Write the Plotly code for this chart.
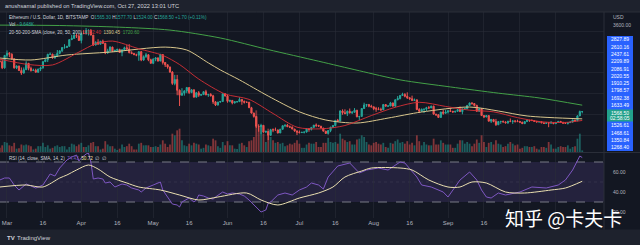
import pandas as pd
import plotly.graph_objects as go

# ---------------- data (ETH/USD daily, Bitstamp) ----------------
first_open = 2780.0
close_feb = [2770, 2620, 2920]
high_feb = [2840, 2820, 2930]
low_feb = [2750, 2590, 2600]
vol_feb = [25, 40, 60]

close_mar = [2970, 2950, 2835, 2620, 2665, 2555, 2495, 2575, 2730, 2608, 2555, 2565, 2515, 2590, 2620, 2770,
             2815, 2945, 2950, 2860, 2895, 2970, 3030, 3110, 3110, 3140, 3300, 3330, 3400, 3385, 3280]
high_mar = [3040, 3000, 2970, 2850, 2680, 2670, 2630, 2630, 2780, 2730, 2650, 2600, 2600, 2600, 2650, 2780,
            2830, 2960, 2990, 2960, 2950, 3050, 3040, 3120, 3190, 3150, 3310, 3410, 3480, 3440, 3440]
low_mar = [2860, 2880, 2820, 2600, 2590, 2550, 2450, 2480, 2570, 2560, 2530, 2550, 2505, 2500, 2540, 2600,
           2760, 2760, 2930, 2840, 2840, 2890, 2950, 3000, 3080, 3100, 3130, 3290, 3330, 3340, 3270]
vol_mar = [55, 40, 35, 55, 20, 22, 45, 40, 45, 40, 35, 15, 20, 35, 35, 55, 30, 40, 20, 25, 35, 40, 30, 35, 35,
           15, 30, 50, 45, 35, 45]

close_apr = [3450, 3445, 3520, 3520, 3410, 3170, 3235, 3190, 3260, 3210, 2980, 3030, 3120, 3020, 3040, 3065,
             2990, 3055, 3105, 3075, 2985, 2965, 2935, 2925, 3010, 2810, 2890, 2935, 2815, 2730]
high_apr = [3470, 3530, 3580, 3550, 3555, 3410, 3260, 3310, 3270, 3300, 3220, 3080, 3140, 3130, 3060, 3080,
            3080, 3070, 3130, 3170, 3190, 3020, 2980, 2960, 3020, 3030, 2920, 2980, 2950, 2840]
low_apr = [3210, 3440, 3420, 3400, 3405, 3150, 3160, 3180, 3190, 3200, 2950, 2960, 3010, 3000, 3010, 3030,
           2980, 2900, 3040, 3050, 2970, 2950, 2930, 2900, 2790, 2780, 2790, 2860, 2780, 2720]
vol_apr = [55, 30, 30, 40, 55, 60, 35, 35, 15, 20, 65, 45, 35, 35, 20, 12, 20, 45, 30, 35, 50, 35, 15, 15, 50,
           55, 40, 40, 40, 30]

close_may = [2830, 2860, 2785, 2940, 2750, 2695, 2640, 2520, 2245, 2340, 2080, 1960, 2010, 2065, 2145, 2025,
             2090, 1915, 2020, 1960, 1975, 2045, 1970, 1980, 1945, 1800, 1725, 1795, 1810, 1995, 1940]
high_may = [2850, 2880, 2870, 2960, 2950, 2760, 2700, 2650, 2540, 2450, 2450, 2100, 2130, 2080, 2160, 2150,
            2110, 2100, 2040, 2060, 1990, 2050, 2090, 1990, 2010, 1970, 1820, 1800, 1820, 2000, 2010]
low_may = [2710, 2780, 2770, 2780, 2700, 2640, 2600, 2500, 2210, 2200, 1960, 1700, 1950, 1950, 2010, 1990,
           2010, 1900, 1900, 1920, 1950, 1970, 1960, 1920, 1930, 1750, 1700, 1710, 1780, 1800, 1930]
vol_may = [30, 35, 30, 45, 70, 50, 30, 45, 110, 100, 130, 140, 70, 40, 35, 50, 40, 55, 50, 45, 20, 25, 45, 40,
           35, 80, 70, 35, 25, 60, 40]

close_jun = [1815, 1835, 1775, 1805, 1805, 1860, 1815, 1790, 1790, 1660, 1530, 1450, 1210, 1205, 1235, 1070,
             1085, 995, 1130, 1125, 1125, 1050, 1140, 1225, 1240, 1200, 1190, 1145, 1100, 1070]
high_jun = [1970, 1850, 1840, 1810, 1820, 1910, 1860, 1830, 1810, 1800, 1680, 1540, 1450, 1260, 1240, 1240,
            1110, 1090, 1150, 1160, 1180, 1130, 1150, 1230, 1250, 1270, 1230, 1210, 1150, 1110]
low_jun = [1780, 1790, 1740, 1760, 1780, 1800, 1730, 1760, 1780, 1650, 1520, 1420, 1170, 1080, 1020, 1060,
           1060, 880, 980, 1070, 1110, 1040, 1050, 1130, 1190, 1200, 1180, 1140, 1080, 1000]
vol_jun = [65, 40, 40, 20, 18, 50, 55, 40, 30, 65, 70, 90, 250, 150, 170, 110, 60, 140, 90, 70, 55, 60, 50, 55,
           35, 40, 50, 45, 55, 70]

close_jul = [1060, 1065, 1075, 1150, 1135, 1185, 1240, 1235, 1215, 1170, 1095, 1040, 1110, 1190, 1230, 1355,
             1340, 1580, 1540, 1520, 1575, 1535, 1550, 1600, 1440, 1450, 1640, 1725, 1735, 1695, 1680]
high_jul = [1110, 1080, 1080, 1160, 1170, 1190, 1240, 1280, 1240, 1220, 1170, 1100, 1110, 1200, 1240, 1360,
            1390, 1600, 1620, 1620, 1590, 1640, 1580, 1650, 1600, 1460, 1650, 1780, 1750, 1750, 1730]
low_jul = [1040, 1050, 1040, 1060, 1080, 1110, 1180, 1190, 1200, 1160, 1090, 1030, 1010, 1070, 1180, 1210,
           1320, 1335, 1490, 1500, 1460, 1520, 1510, 1540, 1430, 1360, 1450, 1630, 1680, 1670, 1670]
vol_jul = [50, 25, 25, 45, 55, 50, 50, 60, 30, 30, 55, 55, 85, 60, 55, 60, 50, 110, 80, 70, 60, 65, 45, 45, 75,
           80, 100, 90, 60, 45, 40]

close_aug = [1635, 1630, 1620, 1610, 1735, 1695, 1700, 1775, 1700, 1850, 1880, 1955, 1980, 1935, 1900, 1875,
             1835, 1850, 1615, 1575, 1620, 1625, 1660, 1655, 1695, 1505, 1490, 1425, 1555, 1525, 1555]
high_aug = [1690, 1680, 1670, 1660, 1750, 1745, 1720, 1800, 1780, 1860, 1940, 1960, 2020, 2010, 2030, 1910,
            1950, 1880, 1850, 1650, 1640, 1630, 1680, 1700, 1710, 1710, 1510, 1500, 1560, 1610, 1610]
low_aug = [1600, 1560, 1600, 1580, 1600, 1690, 1680, 1700, 1680, 1670, 1840, 1860, 1950, 1910, 1870, 1850,
           1820, 1830, 1600, 1530, 1560, 1530, 1580, 1630, 1650, 1490, 1460, 1420, 1420, 1490, 1520]
vol_aug = [55, 60, 50, 45, 55, 30, 25, 55, 50, 65, 75, 55, 60, 50, 65, 45, 55, 40, 100, 65, 40, 60, 45, 40, 40,
           80, 45, 45, 70, 55, 45]

close_sep = [1585, 1575, 1555, 1575, 1615, 1565, 1630, 1635, 1715, 1775, 1760, 1715, 1575, 1635, 1470, 1435,
             1470, 1335, 1375, 1325, 1250, 1325, 1330, 1315, 1295, 1335, 1330, 1340, 1335, 1328]
high_sep = [1590, 1640, 1580, 1580, 1620, 1690, 1640, 1660, 1720, 1780, 1790, 1770, 1730, 1640, 1650, 1480,
            1480, 1470, 1390, 1390, 1390, 1340, 1340, 1350, 1330, 1340, 1400, 1350, 1350, 1370]
low_sep = [1520, 1560, 1540, 1540, 1560, 1560, 1500, 1610, 1630, 1700, 1730, 1690, 1560, 1560, 1460, 1410,
           1430, 1330, 1290, 1310, 1220, 1240, 1270, 1310, 1280, 1270, 1310, 1270, 1300, 1310]
vol_sep = [45, 45, 25, 25, 50, 70, 70, 50, 60, 50, 35, 50, 75, 55, 100, 60, 30, 55, 60, 45, 70, 50, 45, 30, 35,
           50, 60, 50, 40, 45]

close_oct = [1310, 1275, 1325, 1360, 1350, 1350, 1330, 1315, 1320, 1295, 1280, 1295, 1290, 1295, 1275, 1305,
             1330, 1310, 1285, 1280, 1300, 1315, 1365, 1345, 1460, 1566.8, 1568.5]
high_oct = [1335, 1320, 1330, 1370, 1360, 1380, 1360, 1340, 1330, 1330, 1300, 1300, 1310, 1340, 1300, 1310,
            1330, 1340, 1315, 1310, 1305, 1320, 1370, 1365, 1480, 1590, 1577.7]
low_oct = [1300, 1270, 1270, 1320, 1320, 1340, 1320, 1310, 1310, 1290, 1270, 1280, 1190, 1280, 1270, 1270,
           1300, 1290, 1280, 1270, 1255, 1295, 1300, 1330, 1340, 1460, 1524]
vol_oct = [20, 25, 35, 35, 30, 30, 35, 20, 15, 30, 30, 25, 60, 45, 20, 20, 30, 35, 30, 30, 40, 20, 30, 35, 80,
           110, 9.648]

# moving averages
sma20_dates = ["2022-02-26", "2022-03-10", "2022-03-20", "2022-03-31", "2022-04-07", "2022-04-14", "2022-04-25",
               "2022-05-05", "2022-05-12", "2022-05-20", "2022-05-31", "2022-06-10", "2022-06-20", "2022-06-30",
               "2022-07-10", "2022-07-20", "2022-07-31", "2022-08-10", "2022-08-20", "2022-08-31", "2022-09-10",
               "2022-09-20", "2022-09-30", "2022-10-10", "2022-10-20", "2022-10-27"]
sma20_vals = [2830, 2700, 2690, 3000, 3200, 3265, 3080, 2920, 2700, 2350, 1990, 1860, 1520, 1190, 1150, 1230,
              1470, 1670, 1790, 1690, 1600, 1560, 1420, 1320, 1305, 1352]
sma50_dates = ["2022-02-26", "2022-03-11", "2022-03-26", "2022-04-13", "2022-05-06", "2022-05-15", "2022-05-24",
               "2022-05-29", "2022-06-06", "2022-06-18", "2022-07-01", "2022-07-12", "2022-07-25", "2022-08-07",
               "2022-08-21", "2022-09-10", "2022-09-22", "2022-10-04", "2022-10-27"]
sma50_vals = [2857, 2810, 2930, 3000, 3120, 3050, 2740, 2570, 2330, 1940, 1560, 1363, 1290, 1410, 1556, 1676,
              1580, 1460, 1390.45]
sma200_dates = ["2022-02-26", "2022-03-23", "2022-04-17", "2022-05-08", "2022-05-29", "2022-06-18", "2022-07-09",
                "2022-07-26", "2022-08-12", "2022-09-02", "2022-09-22", "2022-10-09", "2022-10-27"]
sma200_vals = [3650, 3640, 3600, 3530, 3340, 3060, 2780, 2550, 2330, 2160, 2010, 1895, 1720.6]

rsi_dates = ["2022-02-26", "2022-02-28",
             "2022-03-02", "2022-03-04", "2022-03-06", "2022-03-09", "2022-03-11", "2022-03-13", "2022-03-16",
             "2022-03-19", "2022-03-21", "2022-03-23", "2022-03-26", "2022-03-28", "2022-03-30", "2022-03-31",
             "2022-04-01", "2022-04-03", "2022-04-04", "2022-04-05", "2022-04-06", "2022-04-08", "2022-04-10",
             "2022-04-11", "2022-04-13", "2022-04-15", "2022-04-18", "2022-04-20", "2022-04-22", "2022-04-25",
             "2022-04-26", "2022-04-28",
             "2022-05-01", "2022-05-04", "2022-05-05", "2022-05-08", "2022-05-09", "2022-05-11", "2022-05-12",
             "2022-05-13", "2022-05-16", "2022-05-18", "2022-05-19", "2022-05-20", "2022-05-22", "2022-05-24",
             "2022-05-26", "2022-05-27", "2022-05-30",
             "2022-06-01", "2022-06-03", "2022-06-06", "2022-06-08", "2022-06-10", "2022-06-12", "2022-06-13",
             "2022-06-15", "2022-06-16", "2022-06-17", "2022-06-18", "2022-06-19", "2022-06-22", "2022-06-25",
             "2022-06-28",
             "2022-07-01", "2022-07-04", "2022-07-06", "2022-07-09", "2022-07-11", "2022-07-13", "2022-07-17",
             "2022-07-22", "2022-07-26", "2022-07-29",
             "2022-08-03", "2022-08-07", "2022-08-12", "2022-08-14", "2022-08-19", "2022-08-21", "2022-08-25",
             "2022-08-30",
             "2022-09-01", "2022-09-06", "2022-09-10", "2022-09-13", "2022-09-15", "2022-09-17", "2022-09-19",
             "2022-09-22", "2022-09-25",
             "2022-10-01", "2022-10-06", "2022-10-12", "2022-10-17", "2022-10-20", "2022-10-23", "2022-10-26",
             "2022-10-27"]
rsi_vals = [52, 54,
            54, 47, 42, 48, 46, 44, 47, 58, 56, 64, 72, 75, 77, 71,
            74, 78, 79, 70, 53, 54, 53, 49, 50, 45, 48, 47, 44, 42, 40, 44,
            47, 50, 42, 32, 28, 27, 25, 30, 34, 30, 32, 37, 36, 34, 33, 35, 40,
            38, 39, 38, 36, 32, 27, 24, 20, 21, 22, 29, 30, 37, 39, 37,
            42, 45, 49, 47, 43, 55, 66, 69, 59, 62,
            64, 62, 70, 69, 55, 47, 45, 40,
            35, 52, 60, 52, 42, 35, 34, 39, 37,
            40, 45, 44, 47, 52, 62, 76, 74.43]
rsima_dates = ["2022-02-26", "2022-03-09", "2022-03-16", "2022-03-23", "2022-03-26", "2022-03-30", "2022-04-04",
               "2022-04-08", "2022-04-13", "2022-04-20", "2022-04-25", "2022-05-04", "2022-05-12", "2022-05-20",
               "2022-05-28", "2022-06-09", "2022-06-15", "2022-06-22", "2022-07-01", "2022-07-09", "2022-07-15",
               "2022-07-20", "2022-07-27", "2022-07-31", "2022-08-12", "2022-08-17", "2022-08-24", "2022-09-01",
               "2022-09-06", "2022-09-11", "2022-09-17", "2022-09-25", "2022-10-03", "2022-10-14", "2022-10-20",
               "2022-10-27"]
rsima_vals = [45, 47, 45, 54, 57, 62, 67, 63, 55, 49, 45, 42, 37, 32, 35, 39, 32, 27, 34, 39, 45, 55, 61, 64,
              64, 62, 52, 45, 45, 50, 49, 40, 39, 42, 44, 50.72]

tick_dates = ["2022-03-01", "2022-03-16", "2022-04-01", "2022-04-16", "2022-05-01", "2022-05-16", "2022-06-01",
              "2022-06-16", "2022-07-01", "2022-07-16", "2022-08-01", "2022-08-16", "2022-09-01", "2022-09-16",
              "2022-10-01", "2022-10-16"]
# the last two date labels sit under the watermark in the reference and are not visible
tick_text = ["Mar", "16", "Apr", "16", "May", "16", "Jun", "16", "Jul", "16", "Aug", "16", "Sep", "16", "", ""]

scale_labels_top = ["2827.89", "2610.16", "2437.61", "2209.89", "2086.91", "2020.55", "1910.25", "1798.57",
                    "1692.38", "1633.49"]
scale_labels_bottom = ["1526.61", "1468.61", "1350.84", "1268.40"]
last_price_label = "1568.50"
countdown_label = "02:58:05"

# ---------------- assemble series ----------------
closes = close_feb + close_mar + close_apr + close_may + close_jun + close_jul + close_aug + close_sep + close_oct
highs = high_feb + high_mar + high_apr + high_may + high_jun + high_jul + high_aug + high_sep + high_oct
lows = low_feb + low_mar + low_apr + low_may + low_jun + low_jul + low_aug + low_sep + low_oct
volumes = vol_feb + vol_mar + vol_apr + vol_may + vol_jun + vol_jul + vol_aug + vol_sep + vol_oct
opens = [first_open] + closes[:-1]
dates = pd.date_range("2022-02-26", periods=len(closes), freq="D")

UP, DN = "#26a69a", "#ef5350"
vol_colors = ["rgba(38,166,154,0.5)" if c >= o else "rgba(239,83,80,0.5)" for o, c in zip(opens, closes)]

# ---------------- geometry helpers (pixels -> paper) ----------------
W, H = 640, 245
PX0, PX1 = 0, 604
PY0, PY1 = 12, 218


def fx(p):
    return (p - PX0) / (PX1 - PX0)


def fy(p):
    return (PY1 - p) / (PY1 - PY0)


FONT = "Liberation Sans, Arial, sans-serif"
GRID = "rgba(42,46,57,0.55)"
TXT = "#b2b5be"

fig = go.Figure()
fig.add_trace(go.Bar(x=dates, y=volumes, marker=dict(color=vol_colors, line=dict(width=0)),
                     xaxis="x", yaxis="y", showlegend=False, hoverinfo="skip"))
fig.add_trace(go.Candlestick(x=dates, open=opens, high=highs, low=lows, close=closes,
                             increasing=dict(line=dict(color=UP, width=1), fillcolor=UP),
                             decreasing=dict(line=dict(color=DN, width=1), fillcolor=DN),
                             xaxis="x", yaxis="y2", showlegend=False))
fig.add_trace(go.Scatter(x=sma200_dates, y=sma200_vals, mode="lines",
                         line=dict(color="#43a047", width=1, shape="spline", smoothing=0.8),
                         xaxis="x", yaxis="y2", showlegend=False))
fig.add_trace(go.Scatter(x=sma50_dates, y=sma50_vals, mode="lines",
                         line=dict(color="#d8c68c", width=1, shape="spline", smoothing=0.8),
                         xaxis="x", yaxis="y2", showlegend=False))
fig.add_trace(go.Scatter(x=sma20_dates, y=sma20_vals, mode="lines",
                         line=dict(color="rgba(214,48,54,0.9)", width=1, shape="spline", smoothing=0.8),
                         xaxis="x", yaxis="y2", showlegend=False))
fig.add_trace(go.Scatter(x=rsi_dates, y=rsi_vals, mode="lines", line=dict(color="#7e57c2", width=1),
                         xaxis="x2", yaxis="y3", showlegend=False))
fig.add_trace(go.Scatter(x=rsima_dates, y=rsima_vals, mode="lines",
                         line=dict(color="#eadfb0", width=1, shape="spline", smoothing=0.8),
                         xaxis="x2", yaxis="y3", showlegend=False))

x_range = ["2022-02-26 02:00", "2022-11-05 02:00"]
main_dom = [fy(152), 1]
rsi_dom = [0, fy(153)]

shapes = [
    dict(type="rect", xref="paper", yref="paper", x0=fx(0), x1=fx(640), y0=fy(229.5), y1=fy(12),
         fillcolor="#131722", line=dict(width=0), layer="below"),
    dict(type="rect", xref="paper", yref="y3", x0=0, x1=1, y0=30, y1=70,
         fillcolor="rgba(126,87,194,0.17)", line=dict(width=0), layer="below"),
    dict(type="line", xref="paper", yref="y3", x0=0, x1=1, y0=70, y1=70,
         line=dict(color="#787b86", width=1, dash="dash"), layer="below"),
    dict(type="line", xref="paper", yref="y3", x0=0, x1=1, y0=50, y1=50,
         line=dict(color="rgba(120,123,134,0.18)", width=1, dash="dot"), layer="below"),
    dict(type="line", xref="paper", yref="y3", x0=0, x1=1, y0=30, y1=30,
         line=dict(color="#787b86", width=1, dash="dash"), layer="below"),
    dict(type="line", xref="paper", yref="paper", x0=0, x1=fx(640), y0=fy(152.5), y1=fy(152.5),
         line=dict(color="#2a2e39", width=1)),
    dict(type="line", xref="paper", yref="paper", x0=1, x1=1, y0=fy(229.5), y1=fy(12),
         line=dict(color="#2a2e39", width=1)),
    dict(type="line", xref="paper", yref="paper", x0=0, x1=fx(640), y0=fy(12), y1=fy(12),
         line=dict(color="#2a2e39", width=1)),
    dict(type="rect", xref="paper", yref="paper", x0=fx(607), x1=fx(633), y0=fy(151), y1=fy(36),
         fillcolor="#2962ff", line=dict(width=0)),
    dict(type="rect", xref="paper", yref="paper", x0=fx(607), x1=fx(633), y0=fy(121.5), y1=fy(109.5),
         fillcolor="#22a18b", line=dict(width=0)),
]

ann = []


def text(x, y, s, size=4.6, color=TXT, anchor="left", family=FONT):
    ann.append(dict(xref="paper", yref="paper", x=fx(x), y=fy(y), text=s, showarrow=False,
                    xanchor=anchor, yanchor="middle", font=dict(family=family, size=size, color=color)))


def col(s, c):
    return "<span style='color:%s'>%s</span>" % (c, s)


text(3, 6, "anushsamal published on TradingView.com, Oct 27, 2022 13:01 UTC", size=5.7, color="#d1d4dc")
text(7, 17.5, "Ethereum / U.S. Dollar, 1D, BITSTAMP  O" + col("1565.30", UP) + " H" + col("1577.70", UP)
     + " L" + col("1524.00", UP) + " C" + col("1568.50", UP) + " " + col("+1.70 (+0.11%)", UP),
     color="#d1d4dc")
text(7, 25, "Vol · " + col("9.648K", UP), color="#d1d4dc")
text(7, 32.5, "20-50-200-SMA (close, 20, 50, 200)  " + col("1352.40", "#d63036") + "  "
     + col("1390.45", "#d8c68c") + "  " + col("1720.60", "#43a047"), color="#d1d4dc")
text(7, 158, "RSI (14, close, SMA, 14, 2)  " + col("74.43", "#7e57c2") + "  " + col("50.72", "#f3e3a1")
     + "  ∅  ∅", color="#d1d4dc")

text(611, 17, "USD", size=5, color=TXT)
text(611, 25, "3600.00", size=5, color=TXT)
for i, s in enumerate(scale_labels_top):
    text(620, 39.3 + 7.3 * i, s, size=5, color="#ffffff", anchor="center")
text(620, 112.8, last_price_label, size=5, color="#ffffff", anchor="center")
text(620, 118.3, countdown_label, size=5, color="#ffffff", anchor="center")
for i, s in enumerate(scale_labels_bottom):
    text(620, 125.3 + 7.2 * i, s, size=5, color="#ffffff", anchor="center")

text(563.5, 217, "知乎 @卡夫卡", size=19, color="#ffffff", anchor="center", family="Noto Sans CJK SC")
text(5, 237.5, "<b>TV</b>", size=6, color="#d1d4dc")
text(15, 237.5, "TradingView", size=6, color="#d1d4dc")

fig.update_layout(
    template="none",
    width=W, height=H,
    margin=dict(l=PX0, r=W - PX1, t=PY0, b=H - PY1, pad=0),
    paper_bgcolor="#1e222d", plot_bgcolor="#131722",
    font=dict(family=FONT, size=6, color=TXT),
    hovermode=False, showlegend=False, bargap=0.25,
    xaxis=dict(domain=[0, 1], anchor="y", range=x_range, type="date", tickvals=tick_dates,
               showticklabels=False, showgrid=True, gridcolor=GRID, gridwidth=1, zeroline=False,
               showline=False, ticks="", rangeslider=dict(visible=False), automargin=False),
    xaxis2=dict(domain=[0, 1], anchor="y3", matches="x", range=x_range, type="date", tickvals=tick_dates,
                ticktext=tick_text, tickfont=dict(family=FONT, size=6, color=TXT), showgrid=True,
                gridcolor=GRID, gridwidth=1, zeroline=False, showline=False, ticks="", automargin=False),
    yaxis=dict(domain=main_dom, anchor="x", range=[0, 840], visible=False, showgrid=False, automargin=False),
    yaxis2=dict(overlaying="y", anchor="x", range=[592, 3966], showticklabels=False, showgrid=True,
                gridcolor=GRID, tickvals=[1000, 1500, 2000, 2500, 3000, 3500], zeroline=False, ticks="",
                automargin=False),
    yaxis3=dict(domain=rsi_dom, anchor="x2", range=[14, 79], side="right", tickvals=[20, 40, 60],
                ticktext=["20.00", "40.00", "60.00"], tickfont=dict(family=FONT, size=5, color=TXT),
                showgrid=False, zeroline=False, ticks="", ticklabelstandoff=8, automargin=False),
    shapes=shapes, annotations=ann,
)

fig.write_html("out.html")
